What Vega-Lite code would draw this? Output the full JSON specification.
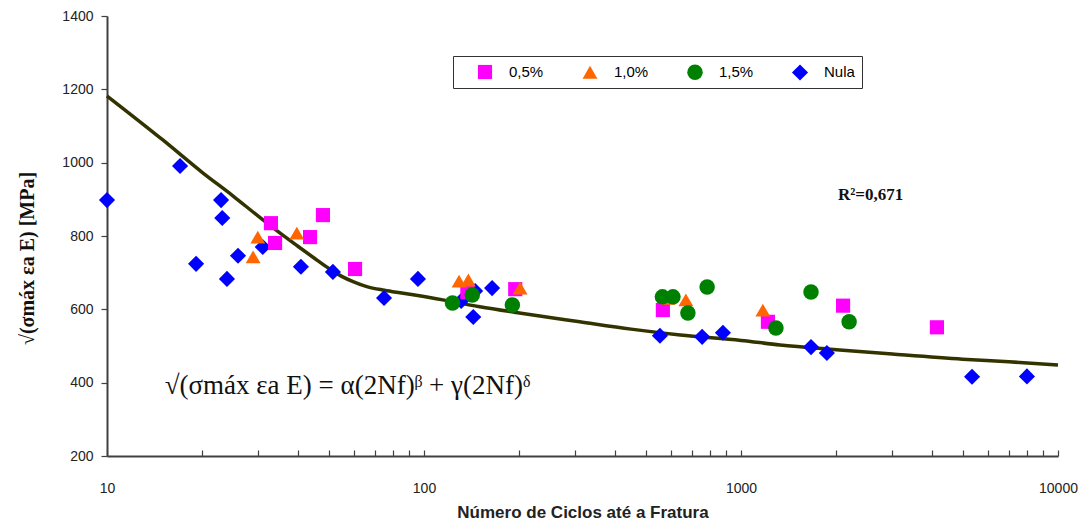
{
  "$schema": "https://vega.github.io/schema/vega-lite/v6.json",
  "autosize": {"type": "none"},
  "padding": {"left": 107, "top": 16, "right": 30, "bottom": 68},
  "width": 951,
  "height": 440,
  "background": "white",
  "config": {
    "view": {"stroke": null},
    "axis": {"labelFont": "Liberation Sans", "labelFontSize": 14, "labelColor": "#222", "domainColor": "#404040", "domainWidth": 2, "tickColor": "#404040", "tickWidth": 1.2, "grid": false},
    "legend": {"labelFont": "Liberation Sans", "labelFontSize": 15}
  },
  "datasets": {
    "pts": [
      {"n": 10, "s": 898, "serie": "Nula"},
      {"n": 17, "s": 991, "serie": "Nula"},
      {"n": 22.9, "s": 898, "serie": "Nula"},
      {"n": 23.1, "s": 849, "serie": "Nula"},
      {"n": 19.1, "s": 724, "serie": "Nula"},
      {"n": 23.9, "s": 683, "serie": "Nula"},
      {"n": 25.9, "s": 746, "serie": "Nula"},
      {"n": 31, "s": 770, "serie": "Nula"},
      {"n": 40.9, "s": 716, "serie": "Nula"},
      {"n": 51.6, "s": 702, "serie": "Nula"},
      {"n": 74.8, "s": 631, "serie": "Nula"},
      {"n": 95.7, "s": 683, "serie": "Nula"},
      {"n": 131, "s": 623, "serie": "Nula"},
      {"n": 145, "s": 650, "serie": "Nula"},
      {"n": 143, "s": 579, "serie": "Nula"},
      {"n": 164, "s": 658, "serie": "Nula"},
      {"n": 555, "s": 528, "serie": "Nula"},
      {"n": 754, "s": 525, "serie": "Nula"},
      {"n": 877, "s": 536, "serie": "Nula"},
      {"n": 1663, "s": 497, "serie": "Nula"},
      {"n": 1866, "s": 481, "serie": "Nula"},
      {"n": 5356, "s": 416, "serie": "Nula"},
      {"n": 7980, "s": 417, "serie": "Nula"},
      {"n": 32.9, "s": 835, "serie": "0,5%"},
      {"n": 33.9, "s": 781, "serie": "0,5%"},
      {"n": 43.7, "s": 797, "serie": "0,5%"},
      {"n": 48, "s": 857, "serie": "0,5%"},
      {"n": 60.6, "s": 710, "serie": "0,5%"},
      {"n": 137, "s": 647, "serie": "0,5%"},
      {"n": 194, "s": 655, "serie": "0,5%"},
      {"n": 567, "s": 598, "serie": "0,5%"},
      {"n": 1216, "s": 566, "serie": "0,5%"},
      {"n": 2099, "s": 610, "serie": "0,5%"},
      {"n": 4150, "s": 551, "serie": "0,5%"},
      {"n": 29.9, "s": 797, "serie": "1,0%"},
      {"n": 28.9, "s": 743, "serie": "1,0%"},
      {"n": 39.7, "s": 808, "serie": "1,0%"},
      {"n": 129, "s": 677, "serie": "1,0%"},
      {"n": 138, "s": 680, "serie": "1,0%"},
      {"n": 201, "s": 658, "serie": "1,0%"},
      {"n": 589, "s": 630, "serie": "1,0%"},
      {"n": 670, "s": 626, "serie": "1,0%"},
      {"n": 1172, "s": 598, "serie": "1,0%"},
      {"n": 123, "s": 617, "serie": "1,5%"},
      {"n": 142, "s": 639, "serie": "1,5%"},
      {"n": 190, "s": 612, "serie": "1,5%"},
      {"n": 565, "s": 634, "serie": "1,5%"},
      {"n": 610, "s": 634, "serie": "1,5%"},
      {"n": 680, "s": 590, "serie": "1,5%"},
      {"n": 782, "s": 661, "serie": "1,5%"},
      {"n": 1289, "s": 549, "serie": "1,5%"},
      {"n": 1663, "s": 647, "serie": "1,5%"},
      {"n": 2193, "s": 566, "serie": "1,5%"}
    ],
    "curve": [
      {"n": 10, "s": 1182}, {"n": 15, "s": 1062}, {"n": 20, "s": 973}, {"n": 25, "s": 909},
      {"n": 30, "s": 854}, {"n": 35, "s": 809}, {"n": 40, "s": 772}, {"n": 45, "s": 740},
      {"n": 50, "s": 712}, {"n": 55, "s": 690}, {"n": 60, "s": 675}, {"n": 66, "s": 662},
      {"n": 75, "s": 652}, {"n": 84, "s": 645}, {"n": 100, "s": 635}, {"n": 150, "s": 607},
      {"n": 200, "s": 590}, {"n": 310, "s": 566}, {"n": 450, "s": 546}, {"n": 643, "s": 530},
      {"n": 1000, "s": 515}, {"n": 1328, "s": 503}, {"n": 2000, "s": 490}, {"n": 3000, "s": 478},
      {"n": 5000, "s": 464}, {"n": 7000, "s": 457}, {"n": 10000, "s": 448}
    ],
    "notes": [
      {"n": 15.2, "s": 392, "t": "√(σmáx εa E) = α(2Nf)ᵝ + γ(2Nf)ᵟ", "k": "eq"},
      {"n": 2023, "s": 912, "t": "R²=0,671", "k": "r2"}
    ]
  },
  "layer": [
    {
      "mark": {"type": "rule", "color": "#9a9a9a", "strokeWidth": 2},
      "encoding": {"x": {"datum": 10000, "type": "quantitative", "scale": {"type": "log", "domain": [10, 10000]}}}
    },
    {
      "data": {"name": "curve"},
      "mark": {"type": "line", "color": "#333300", "strokeWidth": 3.5, "interpolate": "monotone"},
      "encoding": {
        "x": {"field": "n", "type": "quantitative"},
        "y": {"field": "s", "type": "quantitative"}
      }
    },
    {
      "data": {"name": "pts"},
      "mark": {"type": "point", "filled": true, "opacity": 1},
      "encoding": {
        "x": {
          "field": "n", "type": "quantitative",
          "scale": {"type": "log", "domain": [10, 10000]},
          "axis": {
            "title": "Número de Ciclos até a Fratura",
            "titleFont": "Liberation Sans Narrow, Liberation Sans",
            "titleFontSize": 17, "titleFontWeight": "bold", "titleColor": "#222",
            "titlePadding": 9,
            "values": [10,20,30,40,50,60,70,80,90,100,200,300,400,500,600,700,800,900,1000,2000,3000,4000,5000,6000,7000,8000,9000,10000],
            "labelExpr": "indexof([10,100,1000,10000], datum.value) >= 0 ? format(datum.value, 'd') : ''",
            "tickSize": -6, "labelPadding": 31, "labelFlush": false, "labelOverlap": false
          }
        },
        "y": {
          "field": "s", "type": "quantitative",
          "scale": {"domain": [200, 1400], "nice": false, "zero": false},
          "axis": {
            "title": "√(σmáx εa E)  [MPa]",
            "titleFont": "Liberation Serif", "titleFontSize": 20, "titleFontWeight": "bold", "titleColor": "#111",
            "titleAngle": 270, "titleX": -80, "titleY": 242, "titleAlign": "center", "titleBaseline": "middle",
            "values": [200, 400, 600, 800, 1000, 1200, 1400],
            "format": "d",
            "tickSize": 6, "labelPadding": 8
          }
        },
        "color": {
          "field": "serie", "type": "nominal",
          "scale": {"domain": ["0,5%", "1,0%", "1,5%", "Nula"], "range": ["#FF00FF", "#FF6600", "#008000", "#0000FF"]},
          "legend": {
            "title": null, "orient": "none", "legendX": 346, "legendY": 40,
            "direction": "horizontal", "columns": 4, "columnPadding": 21,
            "strokeColor": "#333", "fillColor": "white", "padding": 7,
            "symbolSize": 130, "labelOffset": 15, "symbolOffset": 16
          }
        },
        "shape": {
          "field": "serie", "type": "nominal",
          "scale": {"domain": ["0,5%", "1,0%", "1,5%", "Nula"], "range": ["square", "triangle-up", "circle", "diamond"]},
          "legend": null
        },
        "size": {
          "field": "serie", "type": "nominal",
          "scale": {"domain": ["0,5%", "1,0%", "1,5%", "Nula"], "range": [200, 260, 190, 190]},
          "legend": null
        }
      }
    },
    {
      "data": {"name": "notes"},
      "transform": [{"filter": "datum.k == 'eq'"}],
      "mark": {"type": "text", "align": "left", "baseline": "middle", "font": "Liberation Serif", "fontSize": 27, "color": "#111"},
      "encoding": {
        "x": {"field": "n", "type": "quantitative"},
        "y": {"field": "s", "type": "quantitative"},
        "text": {"field": "t"}
      }
    },
    {
      "data": {"name": "notes"},
      "transform": [{"filter": "datum.k == 'r2'"}],
      "mark": {"type": "text", "align": "left", "baseline": "middle", "font": "Liberation Serif", "fontSize": 17, "fontWeight": "bold", "color": "#111"},
      "encoding": {
        "x": {"field": "n", "type": "quantitative"},
        "y": {"field": "s", "type": "quantitative"},
        "text": {"field": "t"}
      }
    }
  ]
}
